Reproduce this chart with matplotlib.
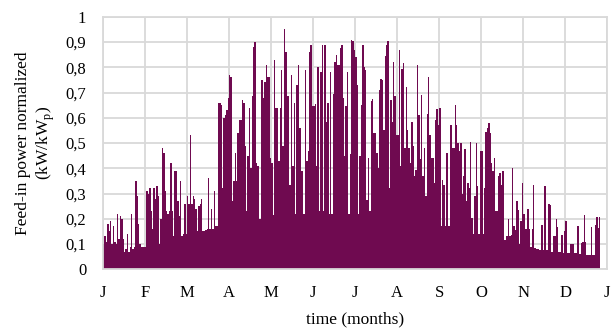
import numpy as np
import matplotlib.pyplot as plt

# Tageswerte der normierten Einspeiseleistung (kW/kWp)
jan = [0.10, 0.13, 0.11, 0.18, 0.15, 0.19, 0.10, 0.17, 0.11, 0.10,
       0.22, 0.12, 0.21, 0.20, 0.12, 0.07, 0.08, 0.14, 0.07, 0.09,
       0.22, 0.08, 0.09, 0.35, 0.29, 0.18, 0.10, 0.09, 0.09, 0.09]
feb = [0.09, 0.31, 0.30, 0.32, 0.23, 0.16, 0.32, 0.28, 0.33, 0.29,
       0.10, 0.20, 0.48, 0.46, 0.31, 0.23, 0.22, 0.23, 0.42, 0.23,
       0.13, 0.39, 0.39, 0.27, 0.21, 0.35, 0.13, 0.14, 0.26, 0.14]
mar = [0.29, 0.26, 0.53, 0.26, 0.29, 0.28, 0.24, 0.15, 0.25, 0.26,
       0.28, 0.15, 0.15, 0.155, 0.16, 0.36, 0.16, 0.24, 0.16, 0.31,
       0.17, 0.17, 0.66, 0.66, 0.65, 0.32, 0.60, 0.61, 0.63, 0.68]
apr = [0.77, 0.76, 0.27, 0.35, 0.46, 0.35, 0.54, 0.59, 0.59, 0.67,
       0.66, 0.49, 0.23, 0.45, 0.64, 0.40, 0.685, 0.88, 0.90, 0.42,
       0.41, 0.20, 0.20, 0.75, 0.68, 0.74, 0.81, 0.76, 0.76, 0.44]
may = [0.42, 0.215, 0.83, 0.64, 0.64, 0.43, 0.64, 0.79, 0.49, 0.95,
       0.86, 0.685, 0.685, 0.335, 0.77, 0.41, 0.66, 0.22, 0.73, 0.81,
       0.56, 0.39, 0.39, 0.22, 0.79, 0.43, 0.47, 0.86, 0.89, 0.645]
jun = [0.645, 0.655, 0.41, 0.80, 0.23, 0.78, 0.89, 0.23, 0.89, 0.585,
       0.66, 0.22, 0.78, 0.22, 0.695, 0.82, 0.85, 0.81, 0.81, 0.875,
       0.89, 0.68, 0.45, 0.645, 0.78, 0.22, 0.455, 0.91, 0.905, 0.87]
jul = [0.84, 0.73, 0.22, 0.45, 0.65, 0.89, 0.80, 0.79, 0.275, 0.44,
       0.23, 0.665, 0.675, 0.54, 0.54, 0.46, 0.40, 0.71, 0.755, 0.75,
       0.55, 0.845, 0.89, 0.905, 0.32, 0.67, 0.585, 0.82, 0.685, 0.53]
aug = [0.53, 0.87, 0.41, 0.795, 0.815, 0.48, 0.72, 0.55, 0.48, 0.42,
       0.585, 0.49, 0.37, 0.395, 0.81, 0.61, 0.435, 0.69, 0.37, 0.48,
       0.29, 0.615, 0.76, 0.53, 0.44, 0.44, 0.34, 0.59, 0.635, 0.57]
sep = [0.64, 0.17, 0.355, 0.335, 0.17, 0.46, 0.17, 0.17, 0.57, 0.48,
       0.48, 0.65, 0.57, 0.50, 0.47, 0.50, 0.30, 0.37, 0.475, 0.27,
       0.34, 0.32, 0.505, 0.205, 0.14, 0.29, 0.50, 0.33, 0.14, 0.47]
okt = [0.47, 0.14, 0.32, 0.545, 0.56, 0.58, 0.54, 0.42, 0.39, 0.44,
       0.23, 0.23, 0.37, 0.38, 0.335, 0.39, 0.115, 0.115, 0.13, 0.20,
       0.13, 0.135, 0.40, 0.17, 0.155, 0.27, 0.235, 0.10, 0.19, 0.34]
nov = [0.22, 0.16, 0.16, 0.24, 0.16, 0.09, 0.16, 0.335, 0.083, 0.08,
       0.08, 0.077, 0.077, 0.176, 0.077, 0.33, 0.075, 0.075, 0.26, 0.255,
       0.07, 0.13, 0.13, 0.20, 0.167, 0.07, 0.068, 0.136, 0.066, 0.15]
dez = [0.19, 0.063, 0.063, 0.10, 0.10, 0.10, 0.063, 0.063, 0.17, 0.17,
       0.06, 0.103, 0.11, 0.215, 0.11, 0.057, 0.057, 0.057, 0.167, 0.057,
       0.057, 0.176, 0.206, 0.163, 0.206]

monate = ['J', 'F', 'M', 'A', 'M', 'J', 'J', 'A', 'S', 'O', 'N', 'D', 'J']
tage_pro_monat = 30

werte = np.array(jan + feb + mar + apr + may + jun + jul + aug + sep + okt + nov + dez)
kanten = np.arange(len(werte) + 1)

plt.rcParams['font.family'] = ['Liberation Serif', 'DejaVu Serif']

fig = plt.figure(figsize=(6.11, 3.29), dpi=100)
ax = fig.add_axes([0.1686, 0.1815, 0.8254, 0.7675])

ax.stairs(werte, kanten, fill=True, color='#6f0a50', zorder=2)   # Tageswerte

ax.set_xlim(0, 12 * tage_pro_monat)
ax.set_ylim(0, 1)
ax.set_xticks(np.arange(13) * tage_pro_monat)
ax.set_xticklabels(monate)
ax.set_yticks(np.arange(0, 1.01, 0.1))
ax.set_yticklabels(['0'] + [('%.1f' % v).replace('.', ',') for v in np.arange(0.1, 0.95, 0.1)] + ['1'])

ax.grid(True, color='#d9d9d9', linewidth=1.3)
ax.set_axisbelow(True)
for s in ax.spines.values():
    s.set_color('#d9d9d9')
    s.set_linewidth(1.3)
ax.tick_params(length=0, labelsize=12)
ax.tick_params(axis='y', pad=12)
ax.tick_params(axis='x', pad=11)

ax.set_ylabel('Feed-in power normalized\n(kW/kW$_\\mathregular{p}$)', fontsize=12.5, labelpad=6,
              linespacing=1.3)
ax.set_xlabel('time (months)', fontsize=12.5, labelpad=8)

fig.savefig('out.png', dpi=100)
